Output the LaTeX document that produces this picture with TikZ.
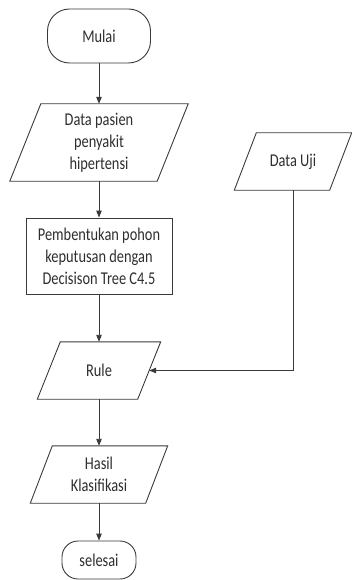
\documentclass[tikz,border=0pt]{standalone}
\usepackage{fontspec}
\setmainfont[FakeStretch=0.8]{Carlito}
\usetikzlibrary{arrows.meta}
\definecolor{ln}{HTML}{3A3A3A}
\definecolor{tx}{HTML}{2E2E2E}
\tikzset{
  box/.style={draw=none, inner sep=0pt, align=center, text=tx,
    font=\fontsize{18pt}{22pt}\selectfont},
  outline/.style={draw=ln, line width=0.9pt, line join=miter},
  arr/.style={draw=ln, line width=0.9pt, -{Triangle[length=7pt,width=5.5pt]}}
}
\begin{document}
\begin{tikzpicture}[x=1pt,y=-1pt]
\useasboundingbox (0,0) rectangle (352,580);
% terminators and process
\node[box, draw=ln, line width=0.9pt, rounded corners=22pt, minimum width=103pt, minimum height=54pt] (mulai) at (99,36) {Mulai};
\node[box, minimum width=147pt, minimum height=77pt] (dp) at (99,142.5) {Data pasien\\penyakit\\hipertensi};
\node[box, minimum width=95pt, minimum height=57pt] (du) at (293,161.5) {Data Uji};
\node[box, draw=ln, line width=0.9pt, minimum width=146pt, minimum height=76pt] (pb) at (99,256) {Pembentukan pohon\\keputusan dengan\\Decisison Tree C4.5};
\node[box, minimum width=100pt, minimum height=57pt] (rule) at (99,370.5) {Rule};
\node[box, minimum width=115pt, minimum height=57pt] (hk) at (99,474.5) {Hasil\\Klasifikasi};
\node[box, draw=ln, line width=0.9pt, rounded corners=16pt, minimum width=74pt, minimum height=38pt] (sel) at (99,560) {selesai};
% parallelograms
\draw[outline] ([xshift=15.5pt]dp.north west) -- ([xshift=15.5pt]dp.north east) -- ([xshift=-15.5pt]dp.south east) -- ([xshift=-15.5pt]dp.south west) -- cycle;
\draw[outline] ([xshift=11pt]du.north west) -- ([xshift=11pt]du.north east) -- ([xshift=-11pt]du.south east) -- ([xshift=-11pt]du.south west) -- cycle;
\draw[outline] ([xshift=11.5pt]rule.north west) -- ([xshift=11.5pt]rule.north east) -- ([xshift=-11.5pt]rule.south east) -- ([xshift=-11.5pt]rule.south west) -- cycle;
\draw[outline] ([xshift=11pt]hk.north west) -- ([xshift=11pt]hk.north east) -- ([xshift=-11pt]hk.south east) -- ([xshift=-11pt]hk.south west) -- cycle;
% connectors
\draw[arr] (mulai.south) -- (dp.north);
\draw[arr] (dp.south) -- (pb.north);
\draw[arr] (pb.south) -- (rule.north);
\draw[arr] (rule.south) -- (hk.north);
\draw[arr] (hk.south) -- (sel.north);
\draw[arr] (du.south) |- (rule.east);
\end{tikzpicture}
\end{document}
